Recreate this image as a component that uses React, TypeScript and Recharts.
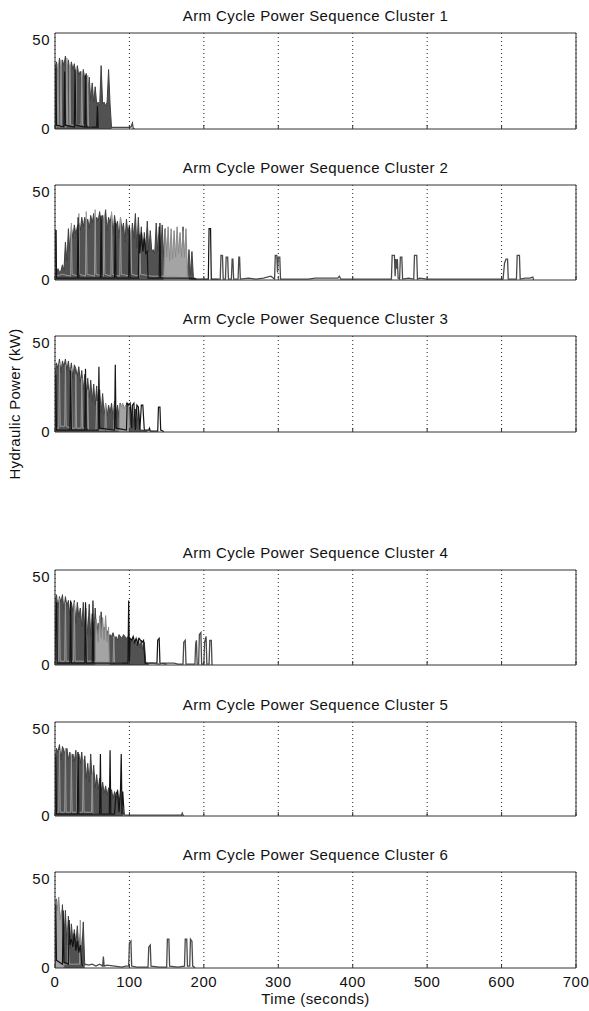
import React from 'react';
import { ComposedChart, Area, Line, XAxis, YAxis, CartesianGrid } from 'recharts';

const TIME_TICKS = [0, 100, 200, 300, 400, 500, 600, 700];
const POWER_TICKS = [0, 50];
const STEP = 2; // seconds between samples in the dense series

// Cluster 1
const c1Dark = [32, 35, 28, 37, 30, 36, 33, 38, 30, 36, 29, 35, 31, 34, 25, 33, 28, 30, 22, 31, 26, 29, 18, 27, 15, 24, 14, 22, 13, 14, 12, 33, 13, 14, 12, 14, 31, 13, 0.5];
const c1Fill: number[][] = [];
const c1Light = [[0, 1], [3, 1], [4, 34], [5, 1], [7, 1], [8, 36], [9, 1], [15, 1], [16, 37], [17, 2], [19, 2], [20, 33], [21, 2], [27, 2], [28, 32], [29, 2], [35, 2], [36, 30], [37, 2], [43, 2], [44, 28], [45, 1], [50, 1]];
const c1Black = [[0, 0], [1, 32], [2, 2], [12, 1], [13, 30], [14, 2], [26, 1], [27, 31], [28, 2], [40, 1], [41, 28], [42, 1], [56, 1], [57, 12], [58, 0.5]];
const c1Tail = [[74, 0.8], [100, 0.8], [102, 1], [104, 3], [105, 0.5], [107, 0]];

// Cluster 2
const c2Dark = [
  5, 3, 6, 4, 5, 8, 5, 20, 10, 27, 15, 28, 22, 29, 24, 28, 30, 26, 33, 28,
  33, 30, 32, 27, 34, 30, 35, 28, 33, 31, 36, 29, 34, 30, 37, 26, 33, 30, 35, 24,
  34, 28, 31, 22, 33, 26, 30, 20, 32, 24, 29, 18, 30, 22, 35, 17, 33, 16, 28, 15,
  25, 16, 31, 15, 26, 15, 16, 14, 30, 15, 28, 14, 29, 12, 27, 10, 20, 8, 12, 6,
  11, 5, 10, 4, 9, 5, 28, 6, 12, 4, 16, 3, 15, 1, 1, 0.5,
];
const c2Fill = [[146, 0], [148, 27], [150, 12], [152, 28], [154, 10], [156, 27], [158, 11], [160, 26], [162, 12], [164, 28], [166, 14], [168, 25], [170, 12], [172, 26], [174, 12], [176, 27], [178, 3], [180, 0]];
const c2Light = [[0, 2], [10, 3], [21, 2], [22, 30], [23, 3], [31, 2], [32, 35], [33, 3], [41, 2], [42, 36], [43, 3], [53, 2], [54, 37], [55, 3], [65, 2], [66, 34], [67, 3], [75, 2], [76, 36], [77, 3], [87, 2], [88, 33], [89, 3], [101, 2], [102, 25], [103, 3], [113, 2], [114, 22], [115, 3], [130, 2], [146, 2], [160, 2], [170, 1]];
const c2Black = [[0, 0], [0.5, 26], [1.5, 26], [2, 1], [30, 1], [31, 33], [32, 1], [61, 1], [62, 34], [63, 1], [80, 1], [81, 30], [82, 1], [99, 1], [100, 28], [101, 1], [112, 1], [113, 24], [114, 14], [116, 25], [118, 15], [120, 22], [122, 14], [124, 15], [125, 1], [140, 1], [141, 30], [142, 1], [180, 1], [190, 0.5], [206, 0.5], [207, 27], [209, 27], [210, 0.5], [220, 0.5]];
const c2Tail = [
  [220, 0.5], [222, 0.5], [223, 13], [225, 13], [226, 0.5], [229, 0.5], [230, 12], [232, 12], [233, 0.5],
  [237, 0.5], [238, 11], [239, 11], [240, 0.5], [246, 0.5], [247, 12], [248, 12], [249, 0.5], [260, 1],
  [270, 0.5], [280, 1], [290, 2], [295, 0.5], [296, 13], [298, 13], [299, 4], [300, 12], [302, 12], [303, 0.5],
  [340, 0.5], [350, 1], [380, 1], [382, 2], [384, 0.5], [452, 0.5], [453, 13], [456, 13], [457, 2], [458, 11],
  [459, 6], [460, 11], [461, 1], [463, 0.5], [464, 12], [466, 12], [467, 0.5], [475, 1], [482, 0.5], [483, 13],
  [486, 13], [487, 0.5], [490, 1], [500, 0.5], [602, 0.5], [604, 9], [606, 11], [608, 11], [609, 0.5],
  [620, 0.5], [621, 13], [624, 13], [625, 0.5], [632, 1], [638, 1], [642, 1.5], [643, 0],
];

// Cluster 3
const c3Dark = [
  30, 36, 33, 38, 31, 37, 34, 38, 32, 37, 30, 36, 28, 35, 33, 29, 34, 26, 32, 22,
  30, 20, 28, 18, 27, 16, 25, 14, 24, 12, 22, 10, 20, 9, 15, 8, 14, 10, 15, 7,
  16, 9, 14, 8, 15, 7, 14, 6, 15, 5, 13, 4, 14, 3, 12, 2, 13, 1, 1, 1, 0.5, 0.5, 0.5,
];
const c3Fill = [[86, 0], [87, 15], [89, 13], [91, 15], [93, 12], [95, 14], [97, 13], [99, 15], [100, 0]];
const c3Light = [[0, 2], [5, 2], [6, 36], [7, 3], [13, 3], [14, 35], [15, 3], [21, 2], [22, 33], [23, 2], [27, 2], [28, 30], [29, 2], [35, 2], [36, 28], [37, 2], [43, 2], [44, 22], [45, 1], [55, 1], [56, 16], [57, 1], [67, 1], [68, 15], [69, 1], [79, 1], [80, 15], [81, 1], [90, 1]];
const c3Black = [[0, 0], [1, 30], [2, 1], [20, 1], [21, 32], [22, 1], [40, 1], [41, 33], [42, 1], [58, 1], [59, 34], [60, 2], [80, 1], [81, 35], [82, 2], [96, 1], [97, 15], [99, 14], [101, 15], [103, 2], [104, 14], [106, 15], [108, 1], [110, 14], [112, 13], [114, 1], [116, 14], [118, 14], [120, 1], [126, 1], [127, 2], [128, 0.5], [138, 0.5], [139, 13], [141, 13], [142, 1], [145, 0.5], [146, 0]];
const c3Tail: number[][] = [];

// Cluster 4
const c4Dark = [
  34, 37, 30, 36, 33, 37, 29, 36, 31, 34, 26, 33, 28, 34, 22, 33, 25, 30, 20, 33,
  18, 28, 16, 32, 15, 27, 14, 30, 16, 22, 14, 28, 16, 20, 15, 18, 14, 16, 15, 17,
  14, 15, 13, 16, 15, 14, 16, 15, 14, 15, 13, 12, 14, 11, 13, 10, 14, 9, 13, 8, 12, 1, 1, 0.5,
];
const c4Fill = [[54, 0], [55, 24], [58, 12], [60, 26], [62, 14], [64, 25], [66, 13], [68, 26], [70, 12], [72, 20], [73, 0]];
const c4Light = [[0, 2], [5, 2], [6, 35], [7, 2], [13, 2], [14, 33], [15, 2], [25, 2], [26, 33], [27, 2], [41, 2], [42, 30], [43, 2], [50, 2], [78, 1], [79, 15], [80, 1], [90, 1]];
const c4Black = [[0, 1], [1, 25], [2, 33], [3, 1], [20, 1], [21, 34], [22, 1], [40, 1], [41, 33], [42, 1], [50, 1], [51, 34], [52, 1], [98, 1], [99, 34], [100, 2], [101, 14], [103, 13], [105, 15], [107, 12], [109, 14], [111, 11], [113, 14], [115, 13], [117, 12], [119, 13], [121, 1], [137, 1], [138, 13], [140, 14], [141, 1], [150, 0.5]];
const c4Tail = [[126, 1], [130, 1], [140, 0.5], [145, 1], [160, 1], [165, 0.5], [172, 0.5], [173, 12], [175, 13], [176, 0.5], [188, 0.5], [189, 11], [190, 13], [191, 0.5], [193, 0.5], [194, 16], [196, 17], [197, 0.5], [200, 0.5], [201, 12], [203, 15], [204, 0.5], [207, 0.5], [208, 13], [210, 13], [211, 0]];

// Cluster 5
const c5Dark = [
  30, 36, 34, 38, 30, 37, 35, 32, 36, 30, 34, 27, 33, 29, 35, 25, 33, 28, 34, 22,
  32, 20, 28, 18, 33, 17, 27, 15, 22, 14, 20, 13, 18, 12, 16, 11, 15, 10, 14, 9, 13, 8, 14, 7, 12, 5, 1,
];
const c5Fill: number[][] = [];
const c5Light = [[0, 2], [5, 2], [6, 35], [7, 2], [13, 2], [14, 36], [15, 2], [21, 2], [22, 33], [23, 2], [29, 2], [30, 34], [31, 2], [37, 2], [38, 30], [39, 2], [49, 2], [50, 22], [51, 1], [60, 1]];
const c5Black = [[0, 1], [1, 32], [2, 1], [30, 1], [31, 34], [32, 1], [60, 1], [61, 33], [62, 1], [73, 1], [74, 35], [75, 1], [80, 1], [82, 12], [84, 13], [86, 2], [88, 14], [89, 33], [90, 1], [91, 13], [93, 0.5]];
const c5Tail = [[93, 0.5], [150, 0.5], [170, 0.5], [171, 1.5], [172, 0.5], [173, 0]];

// Cluster 6
const c6Dark = [20, 36, 25, 30, 18, 33, 15, 30, 12, 27, 10, 23, 14, 20, 12, 22, 10, 18, 8, 24, 1];
const c6Fill = [[0, 0], [1, 36], [3, 30], [5, 37], [7, 25], [9, 30], [11, 8], [12, 0]];
const c6Light = [[12, 2], [17, 2], [18, 20], [19, 2], [33, 2], [34, 25], [35, 2], [40, 1]];
const c6Black = [[0, 2], [1, 33], [2, 4], [10, 2], [11, 30], [12, 3], [18, 2], [19, 25], [20, 12], [22, 15], [24, 11], [26, 18], [28, 9], [30, 14], [32, 8], [34, 12], [36, 2], [38, 1]];
const c6Tail = [[40, 2], [45, 1.5], [50, 2], [55, 1], [60, 2], [64, 1], [65, 6], [66, 1], [70, 1.5], [80, 1], [90, 0.5], [95, 1], [99, 1], [100, 13], [102, 14], [103, 1], [110, 0.5], [125, 0.5], [126, 11], [128, 12], [129, 1], [140, 0.5], [150, 0.5], [151, 15], [153, 15], [154, 1], [165, 0.5], [174, 1], [175, 15], [177, 15], [178, 1], [181, 1], [182, 15], [184, 14], [185, 1], [187, 0.5], [188, 0]];

type Pt = { t: number; v: number };
const seq = (vals: number[]): Pt[] => vals.map((v, i) => ({ t: i * STEP, v }));
const pts = (pairs: number[][]): Pt[] => pairs.map(([t, v]) => ({ t, v }));

const clusters = [
  { n: 1, top: 33, h: 96, dark: c1Dark, fill: c1Fill, light: c1Light, black: c1Black, tail: c1Tail },
  { n: 2, top: 185, h: 95, dark: c2Dark, fill: c2Fill, light: c2Light, black: c2Black, tail: c2Tail },
  { n: 3, top: 336, h: 96, dark: c3Dark, fill: c3Fill, light: c3Light, black: c3Black, tail: c3Tail },
  { n: 4, top: 570, h: 95, dark: c4Dark, fill: c4Fill, light: c4Light, black: c4Black, tail: c4Tail },
  { n: 5, top: 722, h: 94, dark: c5Dark, fill: c5Fill, light: c5Light, black: c5Black, tail: c5Tail },
  { n: 6, top: 872, h: 96, dark: c6Dark, fill: c6Fill, light: c6Light, black: c6Black, tail: c6Tail },
];

const FONT = '"Liberation Sans", Arial, sans-serif';
const AXIS = '#333';

function Panel({ c, showX }: { c: (typeof clusters)[number]; showX: boolean }) {
  const tickStyle = { fontSize: 15, fill: '#111', fontFamily: FONT, letterSpacing: 0.5 };
  return (
    <>
      <div
        style={{
          position: 'absolute', left: 55, width: 521, top: c.top - 26, textAlign: 'center',
          fontFamily: FONT, fontSize: 15, letterSpacing: 0.4, lineHeight: '18px', color: '#111',
        }}
      >
        Arm Cycle Power Sequence Cluster {c.n}
      </div>
      <div style={{ position: 'absolute', left: 0, top: c.top - 2 }}>
        <ComposedChart width={589} height={c.h + 32} margin={{ top: 1, right: 12, bottom: 0, left: 0 }}>
          <CartesianGrid horizontal={false} stroke="#222" strokeDasharray="1 3" />
          <XAxis
            dataKey="t" type="number" domain={[0, 700]} ticks={TIME_TICKS} allowDataOverflow
            height={30} stroke={AXIS} tickSize={-4} tickMargin={12} tick={tickStyle}
            tickFormatter={(v) => (showX ? String(v) : '')}
          />
          <XAxis
            xAxisId="top" orientation="top" dataKey="t" type="number" domain={[0, 700]} ticks={TIME_TICKS}
            height={1} stroke={AXIS} tickSize={-4} tickFormatter={() => ''}
          />
          <YAxis
            type="number" domain={[0, 50]} ticks={POWER_TICKS} allowDataOverflow width={55}
            stroke={AXIS} tickSize={0} tickMargin={5} tick={tickStyle}
          />
          <YAxis yAxisId="r" orientation="right" domain={[0, 50]} width={1} stroke={AXIS} tick={false} tickLine={false} />
          <Area data={seq(c.dark)} dataKey="v" type="linear" fill="#525252" fillOpacity={1}
            stroke="#404040" strokeWidth={1} dot={false} activeDot={false} isAnimationActive={false} />
          <Area data={pts(c.fill)} dataKey="v" type="linear" fill="#a4a4a4" fillOpacity={1}
            stroke="#8a8a8a" strokeWidth={1} dot={false} activeDot={false} isAnimationActive={false} />
          <Line data={pts(c.light)} dataKey="v" type="linear" stroke="#9a9a9a" strokeWidth={1}
            dot={false} activeDot={false} isAnimationActive={false} />
          <Line data={pts(c.black)} dataKey="v" type="linear" stroke="#141414" strokeWidth={1.2}
            dot={false} activeDot={false} isAnimationActive={false} />
          <Line data={pts(c.tail)} dataKey="v" type="linear" stroke="#4a4a4a" strokeWidth={1.3}
            dot={false} activeDot={false} isAnimationActive={false} />
        </ComposedChart>
      </div>
    </>
  );
}

export default function App() {
  return (
    <div style={{ position: 'absolute', left: 0, top: 0, width: 589, height: 1011, background: '#fff', overflow: 'hidden' }}>
      {clusters.map((c, i) => (
        <Panel key={c.n} c={c} showX={i === clusters.length - 1} />
      ))}
      <div style={{ position: 'absolute', left: 13.5, top: 404, width: 0, height: 0 }}>
        <div
          style={{
            position: 'absolute', left: 0, top: 0, transform: 'translate(-50%, -50%) rotate(-90deg)',
            whiteSpace: 'nowrap', fontFamily: FONT, fontSize: 15, color: '#111', letterSpacing: 0.3,
          }}
        >
          Hydraulic Power (kW)
        </div>
      </div>
      <div
        style={{
          position: 'absolute', left: 55, width: 521, top: 990, textAlign: 'center',
          fontFamily: FONT, fontSize: 15, letterSpacing: 0.4, lineHeight: '18px', color: '#111',
        }}
      >
        Time (seconds)
      </div>
    </div>
  );
}
